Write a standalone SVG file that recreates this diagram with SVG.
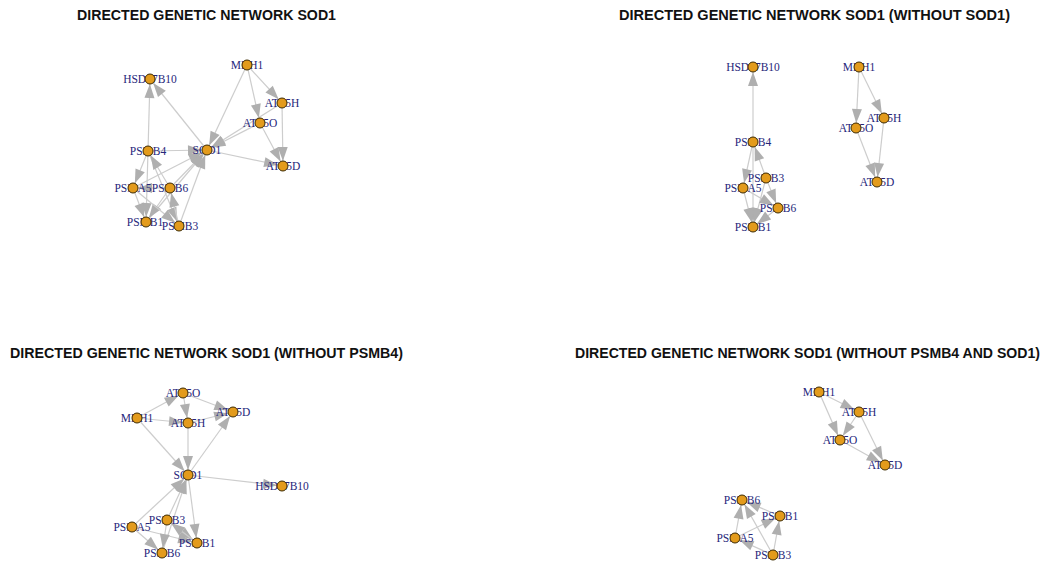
<svg xmlns="http://www.w3.org/2000/svg" width="1046" height="563" viewBox="0 0 1046 563">
<style>
.t{font-family:"Liberation Sans",Arial,sans-serif;font-weight:bold;font-size:14px;fill:#111}
.e line{stroke:#cdcdcd;stroke-width:1.2;marker-end:url(#arr)}
.n circle{fill:#E39B1C;stroke:#3d2a00;stroke-width:1}
.n text{font-family:"Liberation Serif","Times New Roman",serif;font-size:11.5px;fill:#26267a;text-anchor:middle}
</style>
<defs>
<marker id="arr" markerUnits="userSpaceOnUse" viewBox="0 0 14 10" markerWidth="14" markerHeight="10" refX="19" refY="5" orient="auto" style="overflow:visible">
<path d="M0,0 L14,5 L0,10 Z" fill="#afafaf"/>
</marker>
</defs>
<rect width="1046" height="563" fill="#fff"/>
<text class="t" x="77" y="20" textLength="259" lengthAdjust="spacingAndGlyphs">DIRECTED GENETIC NETWORK SOD1</text>
<text class="t" x="619" y="20" textLength="391" lengthAdjust="spacingAndGlyphs">DIRECTED GENETIC NETWORK SOD1 (WITHOUT SOD1)</text>
<text class="t" x="10" y="358" textLength="393" lengthAdjust="spacingAndGlyphs">DIRECTED GENETIC NETWORK SOD1 (WITHOUT PSMB4)</text>
<text class="t" x="575" y="358" textLength="465" lengthAdjust="spacingAndGlyphs">DIRECTED GENETIC NETWORK SOD1 (WITHOUT PSMB4 AND SOD1)</text>

<g id="edges1" class="e">
<line x1="148" y1="151" x2="150" y2="79"/>
<line x1="207" y1="150" x2="150" y2="79"/>
<line x1="247" y1="65" x2="207" y2="150"/>
<line x1="247" y1="65" x2="282" y2="103"/>
<line x1="247" y1="65" x2="260" y2="123"/>
<line x1="282" y1="103" x2="283" y2="166"/>
<line x1="260" y1="123" x2="283" y2="166"/>
<line x1="282" y1="103" x2="207" y2="150"/>
<line x1="260" y1="123" x2="207" y2="150"/>
<line x1="207" y1="150" x2="283" y2="166"/>
<line x1="148" y1="151" x2="207" y2="150"/>
<line x1="148" y1="151" x2="133" y2="188"/>
<line x1="148" y1="151" x2="146" y2="222"/>
<line x1="148" y1="151" x2="179" y2="226"/>
<line x1="170" y1="188" x2="148" y2="151"/>
<line x1="133" y1="188" x2="207" y2="150"/>
<line x1="170" y1="188" x2="207" y2="150"/>
<line x1="146" y1="222" x2="207" y2="150"/>
<line x1="179" y1="226" x2="207" y2="150"/>
<line x1="133" y1="188" x2="146" y2="222"/>
<line x1="170" y1="188" x2="146" y2="222"/>
<line x1="179" y1="226" x2="170" y2="188"/>
<line x1="170" y1="188" x2="133" y2="188"/>
<line x1="133" y1="188" x2="179" y2="226"/>
</g>
<g id="edges2" class="e">
<line x1="753" y1="142" x2="753" y2="67"/>
<line x1="753" y1="142" x2="743" y2="188"/>
<line x1="766" y1="178" x2="753" y2="142"/>
<line x1="753" y1="142" x2="753" y2="227"/>
<line x1="743" y1="188" x2="753" y2="227"/>
<line x1="766" y1="178" x2="753" y2="227"/>
<line x1="778" y1="208" x2="753" y2="227"/>
<line x1="766" y1="178" x2="778" y2="208"/>
<line x1="743" y1="188" x2="778" y2="208"/>
<line x1="859" y1="67" x2="856" y2="128"/>
<line x1="859" y1="67" x2="884" y2="118"/>
<line x1="856" y1="128" x2="877" y2="182"/>
<line x1="884" y1="118" x2="877" y2="182"/>
</g>
<g id="edges3" class="e">
<line x1="137" y1="418" x2="183" y2="393"/>
<line x1="137" y1="418" x2="188" y2="423"/>
<line x1="137" y1="418" x2="188" y2="475"/>
<line x1="183" y1="393" x2="188" y2="423"/>
<line x1="183" y1="393" x2="233" y2="412"/>
<line x1="188" y1="423" x2="233" y2="412"/>
<line x1="188" y1="423" x2="188" y2="475"/>
<line x1="188" y1="475" x2="233" y2="412"/>
<line x1="188" y1="475" x2="282" y2="486"/>
<line x1="188" y1="475" x2="197" y2="543"/>
<line x1="132" y1="527" x2="188" y2="475"/>
<line x1="167" y1="520" x2="188" y2="475"/>
<line x1="162" y1="553" x2="188" y2="475"/>
<line x1="132" y1="527" x2="162" y2="553"/>
<line x1="132" y1="527" x2="197" y2="543"/>
<line x1="167" y1="520" x2="197" y2="543"/>
<line x1="167" y1="520" x2="162" y2="553"/>
<line x1="197" y1="543" x2="167" y2="520"/>
</g>
<g id="edges4" class="e">
<line x1="819" y1="392" x2="859" y2="412"/>
<line x1="819" y1="392" x2="840" y2="440"/>
<line x1="859" y1="412" x2="840" y2="440"/>
<line x1="840" y1="440" x2="885" y2="465"/>
<line x1="859" y1="412" x2="885" y2="465"/>
<line x1="735" y1="538" x2="742" y2="500"/>
<line x1="780" y1="516" x2="742" y2="500"/>
<line x1="773" y1="555" x2="780" y2="516"/>
<line x1="735" y1="538" x2="780" y2="516"/>
<line x1="773" y1="555" x2="742" y2="500"/>
<line x1="773" y1="555" x2="735" y2="538"/>
</g>

<g id="p1-HSD17B10" class="n"><text x="150" y="83">HSD17B10</text><circle cx="150" cy="79" r="5"/></g>
<g id="p1-MDH1" class="n"><text x="247" y="69">MDH1</text><circle cx="247" cy="65" r="5"/></g>
<g id="p1-ATP5H" class="n"><text x="282" y="107">ATP5H</text><circle cx="282" cy="103" r="5"/></g>
<g id="p1-ATP5O" class="n"><text x="260" y="127">ATP5O</text><circle cx="260" cy="123" r="5"/></g>
<g id="p1-SOD1" class="n"><text x="207" y="154">SOD1</text><circle cx="207" cy="150" r="5"/></g>
<g id="p1-ATP5D" class="n"><text x="283" y="170">ATP5D</text><circle cx="283" cy="166" r="5"/></g>
<g id="p1-PSMB4" class="n"><text x="148" y="155">PSMB4</text><circle cx="148" cy="151" r="5"/></g>
<g id="p1-PSMA5" class="n"><text x="133" y="192">PSMA5</text><circle cx="133" cy="188" r="5"/></g>
<g id="p1-PSMB6" class="n"><text x="170" y="192">PSMB6</text><circle cx="170" cy="188" r="5"/></g>
<g id="p1-PSMB1" class="n"><text x="145" y="226">PSMB1</text><circle cx="146" cy="222" r="5"/></g>
<g id="p1-PSMB3" class="n"><text x="180" y="230">PSMB3</text><circle cx="179" cy="226" r="5"/></g>

<g id="p2-HSD17B10" class="n"><text x="753" y="71">HSD17B10</text><circle cx="753" cy="67" r="5"/></g>
<g id="p2-PSMB4" class="n"><text x="753" y="146">PSMB4</text><circle cx="753" cy="142" r="5"/></g>
<g id="p2-PSMB3" class="n"><text x="766" y="182">PSMB3</text><circle cx="766" cy="178" r="5"/></g>
<g id="p2-PSMA5" class="n"><text x="743" y="192">PSMA5</text><circle cx="743" cy="188" r="5"/></g>
<g id="p2-PSMB6" class="n"><text x="778" y="212">PSMB6</text><circle cx="778" cy="208" r="5"/></g>
<g id="p2-PSMB1" class="n"><text x="753" y="231">PSMB1</text><circle cx="753" cy="227" r="5"/></g>
<g id="p2-MDH1" class="n"><text x="859" y="71">MDH1</text><circle cx="859" cy="67" r="5"/></g>
<g id="p2-ATP5H" class="n"><text x="884" y="122">ATP5H</text><circle cx="884" cy="118" r="5"/></g>
<g id="p2-ATP5O" class="n"><text x="856" y="132">ATP5O</text><circle cx="856" cy="128" r="5"/></g>
<g id="p2-ATP5D" class="n"><text x="877" y="186">ATP5D</text><circle cx="877" cy="182" r="5"/></g>

<g id="p3-ATP5O" class="n"><text x="183" y="397">ATP5O</text><circle cx="183" cy="393" r="5"/></g>
<g id="p3-MDH1" class="n"><text x="137" y="422">MDH1</text><circle cx="137" cy="418" r="5"/></g>
<g id="p3-ATP5H" class="n"><text x="188" y="427">ATP5H</text><circle cx="188" cy="423" r="5"/></g>
<g id="p3-ATP5D" class="n"><text x="233" y="416">ATP5D</text><circle cx="233" cy="412" r="5"/></g>
<g id="p3-SOD1" class="n"><text x="188" y="479">SOD1</text><circle cx="188" cy="475" r="5"/></g>
<g id="p3-HSD17B10" class="n"><text x="282" y="490">HSD17B10</text><circle cx="282" cy="486" r="5"/></g>
<g id="p3-PSMB3" class="n"><text x="167" y="524">PSMB3</text><circle cx="167" cy="520" r="5"/></g>
<g id="p3-PSMA5" class="n"><text x="132" y="531">PSMA5</text><circle cx="132" cy="527" r="5"/></g>
<g id="p3-PSMB1" class="n"><text x="197" y="547">PSMB1</text><circle cx="197" cy="543" r="5"/></g>
<g id="p3-PSMB6" class="n"><text x="162" y="557">PSMB6</text><circle cx="162" cy="553" r="5"/></g>

<g id="p4-MDH1" class="n"><text x="819" y="396">MDH1</text><circle cx="819" cy="392" r="5"/></g>
<g id="p4-ATP5H" class="n"><text x="859" y="416">ATP5H</text><circle cx="859" cy="412" r="5"/></g>
<g id="p4-ATP5O" class="n"><text x="840" y="444">ATP5O</text><circle cx="840" cy="440" r="5"/></g>
<g id="p4-ATP5D" class="n"><text x="885" y="469">ATP5D</text><circle cx="885" cy="465" r="5"/></g>
<g id="p4-PSMB6" class="n"><text x="742" y="504">PSMB6</text><circle cx="742" cy="500" r="5"/></g>
<g id="p4-PSMB1" class="n"><text x="780" y="520">PSMB1</text><circle cx="780" cy="516" r="5"/></g>
<g id="p4-PSMA5" class="n"><text x="735" y="542">PSMA5</text><circle cx="735" cy="538" r="5"/></g>
<g id="p4-PSMB3" class="n"><text x="773" y="559">PSMB3</text><circle cx="773" cy="555" r="5"/></g>
</svg>
